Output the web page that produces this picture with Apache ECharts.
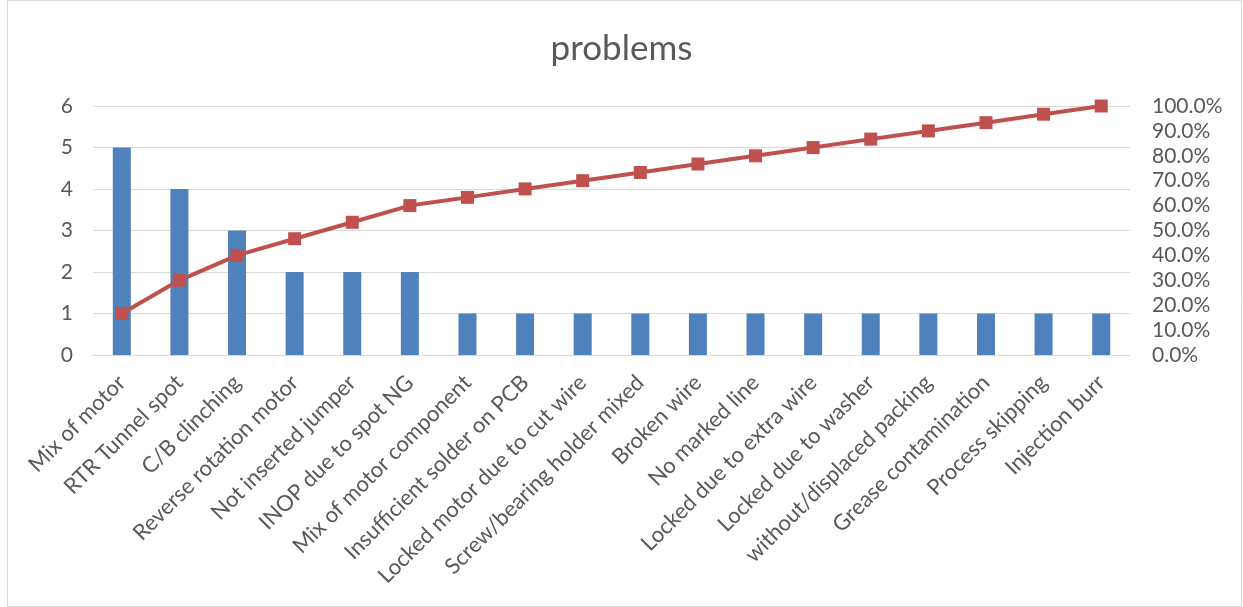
<!DOCTYPE html>
<html>
<head>
<meta charset="utf-8">
<script src="https://cdn.jsdelivr.net/npm/echarts@6/dist/echarts.min.js"></script>
<style>
  html, body { margin: 0; padding: 0; background: #fff; }
  #main { width: 1243px; height: 607px; }
</style>
</head>
<body>
<div id="main"></div>
<script>
// categories of problems
var categories = [
    'Mix of motor', 'RTR Tunnel spot', 'C/B clinching', 'Reverse rotation motor',
    'Not inserted jumper', 'INOP due to spot NG', 'Mix of motor component',
    'Insufficient solder on PCB', 'Locked motor due to cut wire', 'Screw/bearing holder mixed',
    'Broken wire', 'No marked line', 'Locked due to extra wire', 'Locked due to washer',
    'without/displaced packing', 'Grease contamination', 'Process skipping', 'Injection burr'
];

// count per problem
var counts = [5, 4, 3, 2, 2, 2, 1, 1, 1, 1, 1, 1, 1, 1, 1, 1, 1, 1];

// cumulative %
var cumPercent = [16.7, 30.0, 40.0, 46.7, 53.3, 60.0, 63.3, 66.7, 70.0, 73.3,
    76.7, 80.0, 83.3, 86.7, 90.0, 93.3, 96.7, 100.0];

var textColor = '#595959';
var font = 'Lato';

var chart = echarts.init(document.getElementById('main'), null, { renderer: 'canvas' });

var option = {
    backgroundColor: '#ffffff',
    animation: false,
    textStyle: { fontFamily: font },
    title: {
        text: 'problems',
        left: 'center',
        top: 26,
        textStyle: { color: textColor, fontSize: 35, fontWeight: 'normal', fontFamily: font }
    },
    graphic: [{
        type: 'rect',
        shape: { x: 7.5, y: 0.5, width: 1234, height: 606 },
        style: { fill: 'none', stroke: '#d9d9d9', lineWidth: 1 },
        silent: true
    }],
    grid: {
        left: 93,
        right: 113,
        top: 106,
        bottom: 252
    },
    xAxis: {
        type: 'category',
        data: categories,
        axisTick: { show: false },
        axisLine: { lineStyle: { color: '#d9d9d9', width: 1 } },
        axisLabel: {
            rotate: 45,
            interval: 0,
            margin: 24,
            color: textColor,
            fontSize: 22,
            fontFamily: font
        }
    },
    yAxis: [{
        type: 'value',
        min: 0,
        max: 6,
        interval: 1,
        axisLine: { show: false },
        axisTick: { show: false },
        axisLabel: { color: textColor, fontSize: 21, margin: 20, fontFamily: font },
        splitLine: { lineStyle: { color: '#d9d9d9', width: 1 } }
    }, {
        type: 'value',
        min: 0,
        max: 1,
        interval: 0.1,
        position: 'right',
        axisLine: { show: false },
        axisTick: { show: false },
        splitLine: { show: false },
        axisLabel: {
            color: textColor,
            fontSize: 21,
            margin: 22,
            fontFamily: font,
            formatter: function (v) { return (v * 100).toFixed(1) + '%'; }
        }
    }],
    series: [{
        name: 'count',
        type: 'bar',
        data: counts,
        barWidth: 18,
        itemStyle: { color: '#4f81bd' }
    }, {
        name: 'cumulative',
        type: 'line',
        yAxisIndex: 1,
        data: cumPercent.map(function (p) { return p / 100; }),
        symbol: 'rect',
        symbolSize: 13,
        lineStyle: { color: '#c0504d', width: 4 },
        itemStyle: { color: '#c0504d' }
    }]
};

chart.setOption(option);
</script>
</body>
</html>
